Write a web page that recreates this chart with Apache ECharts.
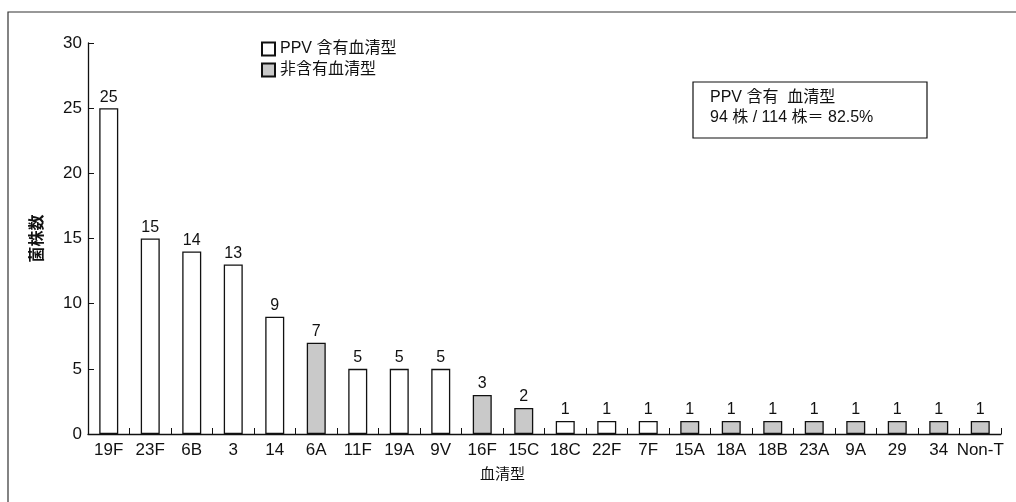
<!DOCTYPE html>
<html>
<head>
<meta charset="utf-8">
<script src="https://cdn.jsdelivr.net/npm/echarts@6/dist/echarts.min.js"></script>
<style>
  html, body { margin: 0; padding: 0; background: #fff; }
  #chart { width: 1016px; height: 502px; }
</style>
</head>
<body>
<div id="chart"></div>
<script>
// 血清型ごとの菌株数
var serotypes = ['19F', '23F', '6B', '3', '14', '6A', '11F', '19A', '9V', '16F', '15C',
    '18C', '22F', '7F', '15A', '18A', '18B', '23A', '9A', '29', '34', 'Non-T'];
var counts = [25, 15, 14, 13, 9, 7, 5, 5, 5, 3, 2, 1, 1, 1, 1, 1, 1, 1, 1, 1, 1, 1];
// 1 = PPV 含有, 0 = 非含有
var inPPV = [1, 1, 1, 1, 1, 0, 1, 1, 1, 0, 0, 1, 1, 1, 0, 0, 0, 0, 0, 0, 0, 0];
var yTicks = [0, 5, 10, 15, 20, 25, 30];

var font = '"Liberation Sans", Arial, "Noto Sans CJK JP", sans-serif';

var ppvData = counts.map(function (v, i) { return inPPV[i] ? v : '-'; });
var nonData = counts.map(function (v, i) { return inPPV[i] ? '-' : v; });

var myChart = echarts.init(document.getElementById('chart'));

var barLabel = {
    show: true,
    position: 'top',
    distance: 3,
    color: '#111',
    fontSize: 16,
    fontFamily: font
};

var option = {
    animation: false,
    backgroundColor: '#fff',
    textStyle: { fontFamily: font, color: '#111' },
    grid: { left: 88, right: 15, top: 43, bottom: 68 },
    legend: {
        orient: 'vertical',
        left: 256,
        top: 36,
        itemWidth: 13,
        itemHeight: 13,
        itemGap: 5,
        icon: 'rect',
        textStyle: { fontSize: 16, color: '#111', fontFamily: font },
        data: ['PPV 含有血清型', '非含有血清型']
    },
    xAxis: {
        type: 'category',
        data: serotypes,
        axisLine: { lineStyle: { color: '#111', width: 1.3 } },
        axisTick: { show: true, inside: true, length: 6, alignWithLabel: false, lineStyle: { color: '#111' } },
        axisLabel: { color: '#111', fontSize: 17, margin: 8, fontFamily: font, interval: 0 }
    },
    yAxis: {
        type: 'value',
        min: 0,
        max: 30,
        interval: 5,
        name: '菌株数',
        nameLocation: 'middle',
        nameRotate: 90,
        nameGap: 42,
        nameTextStyle: { fontSize: 16, fontWeight: 'bold', color: '#111', fontFamily: font },
        axisLine: { show: true, lineStyle: { color: '#111', width: 1.3 } },
        axisTick: { show: true, inside: true, length: 6, lineStyle: { color: '#111' } },
        axisLabel: {
            color: '#111', fontSize: 17, margin: 6, fontFamily: font,
            formatter: function (v) { return yTicks.indexOf(v) >= 0 ? String(v) : ''; }
        },
        splitLine: { show: false }
    },
    series: [
        {
            name: 'PPV 含有血清型',
            type: 'bar',
            data: ppvData,
            barWidth: 19,
            barGap: '-100%',
            itemStyle: { color: '#fff', borderColor: '#111', borderWidth: 1.3 },
            label: barLabel
        },
        {
            name: '非含有血清型',
            type: 'bar',
            data: nonData,
            barWidth: 19,
            barGap: '-100%',
            itemStyle: { color: '#c9c9c9', borderColor: '#111', borderWidth: 1.3 },
            label: barLabel
        }
    ],
    graphic: {
        elements: [
            {
                // 外枠 (左と上だけが見える)
                type: 'rect',
                shape: { x: 8, y: 12, width: 1030, height: 520 },
                style: { fill: 'none', stroke: '#333', lineWidth: 1.2 },
                silent: true
            },
            {
                type: 'rect',
                shape: { x: 693, y: 82, width: 234, height: 56 },
                style: { fill: '#fff', stroke: '#111', lineWidth: 1.2 }
            },
            {
                type: 'text',
                left: 710,
                top: 88,
                style: {
                    text: 'PPV 含有  血清型\n94 株 / 114 株＝ 82.5%',
                    fontSize: 16,
                    lineHeight: 20,
                    fill: '#111',
                    fontFamily: font
                }
            },
            {
                type: 'text',
                left: 480,
                top: 467,
                style: { text: '血清型', fontSize: 15, fill: '#111', fontFamily: font }
            }
        ]
    }
};

myChart.setOption(option);
</script>
</body>
</html>
